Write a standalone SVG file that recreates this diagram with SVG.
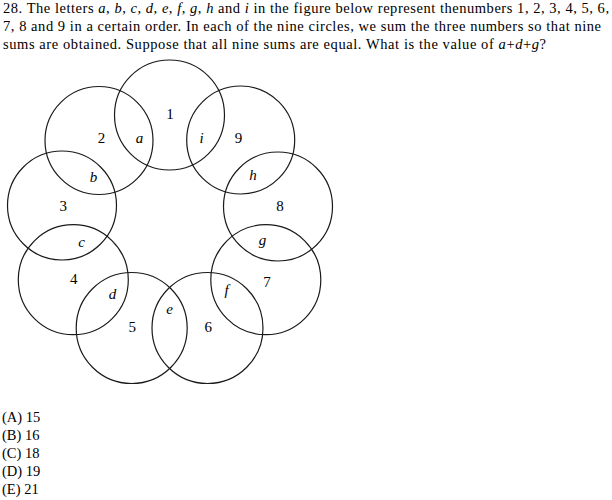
<svg xmlns="http://www.w3.org/2000/svg" width="612" height="500" viewBox="0 0 612 500">
<style>
.t{font-family:"Liberation Serif","Times New Roman",serif;font-size:14.5px;fill:#000}
.lb{font-family:"Liberation Serif","Times New Roman",serif;font-size:15px;fill:#000;text-anchor:middle}
.i{font-style:italic}
.c{fill:none;stroke:#1a1a1a;stroke-width:1.2}
</style>
<rect width="612" height="500" fill="#fff"/>
<g id="question">
<text class="t" x="3" y="13" textLength="606">28. The letters <tspan class="i">a</tspan>, <tspan class="i">b</tspan>, <tspan class="i">c</tspan>, <tspan class="i">d</tspan>, <tspan class="i">e</tspan>, <tspan class="i">f</tspan>, <tspan class="i">g</tspan>, <tspan class="i">h</tspan> and <tspan class="i">i</tspan> in the figure below represent thenumbers 1, 2, 3, 4, 5, 6,</text>
<text class="t" x="3" y="31" textLength="598">7, 8 and 9 in a certain order. In each of the nine circles, we sum the three numbers so that nine</text>
<text class="t" x="3" y="49" textLength="543">sums are obtained. Suppose that all nine sums are equal. What is the value of <tspan class="i">a</tspan>+<tspan class="i">d</tspan>+<tspan class="i">g</tspan>?</text>
</g>
<g id="circles">
<g id="circle1"><circle class="c" cx="169.5" cy="115" r="55"/><text class="lb" x="170" y="119">1</text></g>
<g id="circle2"><circle class="c" cx="99" cy="140.5" r="54"/><text class="lb" x="101.5" y="143">2</text></g>
<g id="circle9"><circle class="c" cx="240.7" cy="140" r="54"/><text class="lb" x="238.5" y="143">9</text></g>
<g id="circle3"><circle class="c" cx="62" cy="205.5" r="54.5"/><text class="lb" x="63.3" y="211">3</text></g>
<g id="circle8"><circle class="c" cx="278" cy="206.5" r="54.5"/><text class="lb" x="280" y="211">8</text></g>
<g id="circle4"><circle class="c" cx="73.3" cy="279.7" r="55"/><text class="lb" x="73.7" y="284">4</text></g>
<g id="circle7"><circle class="c" cx="265.8" cy="279.7" r="55"/><text class="lb" x="267" y="286.5">7</text></g>
<g id="circle5"><circle class="c" cx="131.7" cy="328" r="55.5"/><text class="lb" x="132.3" y="331.7">5</text></g>
<g id="circle6"><circle class="c" cx="207.5" cy="328" r="55.5"/><text class="lb" x="208.3" y="331.7">6</text></g>
</g>
<g id="letters">
<text class="lb i" x="139.5" y="143">a</text>
<text class="lb i" x="201.5" y="143">i</text>
<text class="lb i" x="93.5" y="181.5">b</text>
<text class="lb i" x="253" y="180">h</text>
<text class="lb i" x="81.7" y="247">c</text>
<text class="lb i" x="262.5" y="245">g</text>
<text class="lb i" x="112.5" y="299">d</text>
<text class="lb i" x="226.7" y="295">f</text>
<text class="lb i" x="169.7" y="314">e</text>
</g>
<g id="answers">
<text class="t" x="2" y="422">(A) 15</text>
<text class="t" x="2" y="440">(B) 16</text>
<text class="t" x="2" y="458">(C) 18</text>
<text class="t" x="2" y="476">(D) 19</text>
<text class="t" x="2" y="494">(E) 21</text>
</g>
</svg>
